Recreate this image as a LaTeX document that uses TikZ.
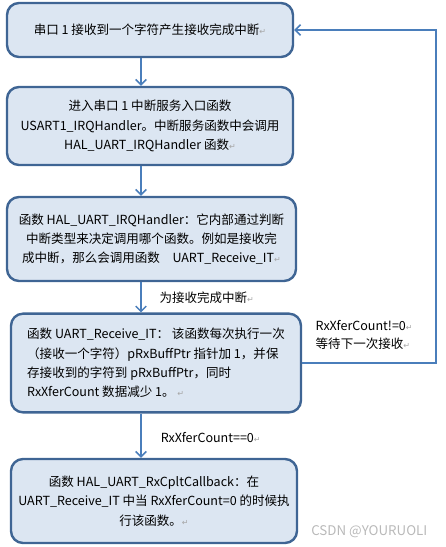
\documentclass[tikz,border=0pt]{standalone}
\usepackage{fontspec}
\setmainfont{Noto Sans CJK SC}
\newfontfamily\symfont{DejaVu Sans}
\usetikzlibrary{arrows.meta}
\definecolor{boxfill}{HTML}{DCE6F2}
\definecolor{boxline}{HTML}{3F6594}
\definecolor{flowline}{HTML}{4A7EBB}
\newcommand{\retmark}{{\color{gray!70}\fontsize{6}{6}\symfont ↵}}

\begin{document}
\begin{tikzpicture}[x=0.75pt,y=-0.75pt,
	stepbox/.style={draw=boxline,line width=1.8pt,fill=boxfill,rounded corners=9pt,
		minimum width=#1*0.75pt,inner sep=0pt,font=\fontsize{9.4}{14.5}\selectfont},
	flow/.style={draw=flowline,line width=1.1pt,-{Straight Barb[length=4pt,width=8pt,line width=1.1pt]}},
	lbl/.style={anchor=west,font=\fontsize{9.4}{13}\selectfont,align=left}]
	\useasboundingbox (0,0) rectangle (446,547);
	\node[stepbox=286,minimum height=40.5pt,align=center] (rx) at (150,30)
		{串口 1 接收到一个字符产生接收完成中断\retmark};
	\node[stepbox=286,minimum height=58.5pt,align=center] (irq) at (150,126)
		{进入串口 1 中断服务入口函数\\USART1\_IRQHandler。中断服务函数中会调用\\HAL\_UART\_IRQHandler 函数\retmark};
	\node[stepbox=289,minimum height=63pt,align=center] (hal) at (151.5,239)
		{函数 HAL\_UART\_IRQHandler：它内部通过判断\\中断类型来决定调用哪个函数。例如是接收完\\成中断，那么会调用函数\quad UART\_Receive\_IT\retmark};
	\node[stepbox=290,minimum height=74pt,align=left] (recv) at (156,363)
		{函数 UART\_Receive\_IT：\ 该函数每次执行一次\\（接收一个字符）pRxBuffPtr 指针加 1，并保\\存接收到的字符到 pRxBuffPtr，同时\\RxXferCount 数据减少 1。\ \retmark};
	\node[stepbox=286,minimum height=63pt,align=center] (cb) at (154,501)
		{函数 HAL\_UART\_RxCpltCallback：在\\UART\_Receive\_IT 中当 RxXferCount=0 的时候执\\行该函数。\retmark};
	\coordinate (ax) at (141,0);
	\coordinate (rt) at (436,0);
	\draw[flow] (rx.south -| ax) -- (irq.north -| ax);
	\draw[flow] (irq.south -| ax) -- (hal.north -| ax);
	\draw[flow] (hal.south -| ax) -- (recv.north -| ax) node[lbl,pos=0.5,xshift=10pt] {为接收完成中断\retmark};
	\draw[flow] (recv.south -| ax) -- (cb.north -| ax) node[lbl,pos=0.55,xshift=11pt] {RxXferCount==0\retmark};
	\draw[flow] (recv.east) -- (recv.east -| rt) -- (rx.east -| rt) -- (rx.east);
	\node[lbl] (wait) at (311,335) {RxXferCount!=0\retmark\\等待下一次接收\retmark};
	\node[anchor=east,text=gray!55,font=\fontsize{10}{12}\selectfont] (mark) at (432,532) {CSDN @YOURUOLI};
\end{tikzpicture}
\end{document}
